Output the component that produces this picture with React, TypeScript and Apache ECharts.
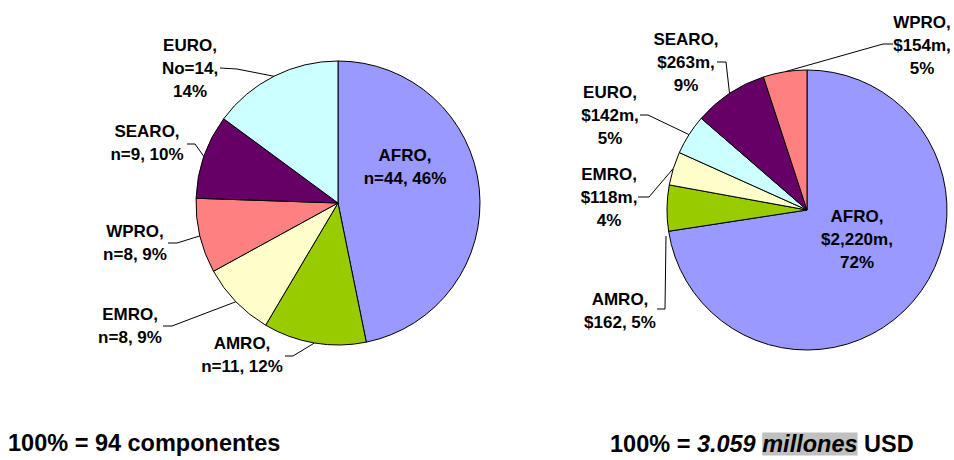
import React, { useEffect, useRef } from "react";
import * as echarts from "echarts";

// Left pie: number of components by region (clockwise from 12 o'clock)
const leftRegions = ["AFRO", "AMRO", "EMRO", "WPRO", "SEARO", "EURO"];
const leftCounts = [44, 11, 8, 8, 9, 14];
const leftCountLabels = ["n=44", "n=11", "n=8", "n=8", "n=9", "No=14"];
const leftPctLabels = ["46%", "12%", "9%", "9%", "10%", "14%"];

// Right pie: funding by region, USD millions (clockwise from 12 o'clock)
const rightRegions = ["AFRO", "AMRO", "EMRO", "EURO", "SEARO", "WPRO"];
const rightAmounts = [2220, 162, 118, 142, 263, 154];
const rightAmountLabels = ["$2,220m", "$162", "$118m", "$142m", "$263m", "$154m"];
const rightPctLabels = ["72%", "5%", "4%", "5%", "9%", "5%"];

const regionColors: Record<string, string> = {
  AFRO: "#9999FF",
  AMRO: "#99CC00",
  EMRO: "#FFFFCC",
  WPRO: "#FF8080",
  SEARO: "#660066",
  EURO: "#CCFFFF",
};

const leftTexts = leftRegions.map((r, i) =>
  r === "EURO"
    ? `${r},\n${leftCountLabels[i]},\n${leftPctLabels[i]}`
    : `${r},\n${leftCountLabels[i]}, ${leftPctLabels[i]}`
);
const rightTexts = rightRegions.map((r, i) =>
  r === "AMRO"
    ? `${r},\n${rightAmountLabels[i]}, ${rightPctLabels[i]}`
    : `${r},\n${rightAmountLabels[i]},\n${rightPctLabels[i]}`
);

// label placement (layout only)
type LP = { x: number; y: number; line?: number[][]; p0?: number[] };
const leftLayout: LP[] = [
  { x: 405, y: 167 },
  { x: 242, y: 355, line: [[293, 356], [285, 356]] },
  { x: 130, y: 326, line: [[172, 326], [163, 326]] },
  { x: 135, y: 243, line: [[177, 243], [168, 243]] },
  { x: 147, y: 143, line: [[195, 144], [187, 144]] },
  { x: 190, y: 68, line: [[237, 69], [220, 68]] },
];
const rightLayout: LP[] = [
  { x: 857, y: 239 },
  { x: 620, y: 311, line: [[665, 309], [657, 309]], p0: [666, 236] },
  { x: 609, y: 197, line: [[649, 197], [638, 197]] },
  { x: 610, y: 115, line: [[648, 115], [640, 115]] },
  { x: 686, y: 62, line: [[726, 62], [717, 62]] },
  { x: 922, y: 45, line: [[883, 44], [893, 44]] },
];

const FONT = "'Liberation Sans', Arial, Helvetica, sans-serif";

function makeSeries(
  names: string[],
  values: number[],
  texts: string[],
  center: number[],
  radius: number
) {
  return {
    type: "pie",
    center,
    radius,
    startAngle: 90,
    clockwise: true,
    avoidLabelOverlap: false,
    silent: true,
    itemStyle: { borderColor: "#000", borderWidth: 1 },
    label: {
      show: true,
      position: "outside",
      formatter: (p: any) => texts[p.dataIndex],
      fontFamily: FONT,
      fontWeight: "bold",
      fontSize: 17,
      lineHeight: 23,
      color: "#000",
      align: "center",
    },
    labelLine: {
      show: true,
      length: 10,
      length2: 10,
      smooth: false,
      lineStyle: { color: "#000", width: 1 },
    },
    emphasis: { disabled: true },
    data: names.map((n, i) => ({
      name: n,
      value: values[i],
      itemStyle: { color: regionColors[n] },
      ...(n === "AFRO"
        ? { label: { position: "inside" }, labelLine: { show: false } }
        : {}),
    })),
  };
}

export default function App() {
  const ref = useRef<HTMLDivElement>(null);
  useEffect(() => {
    if (!ref.current) return;
    const chart = echarts.init(ref.current, undefined, { renderer: "svg" });
    const layouts = [leftLayout, rightLayout];
    chart.setOption({
      animation: false,
      backgroundColor: "#ffffff",
      series: [
        makeSeries(leftRegions, leftCounts, leftTexts, [338, 203], 142),
        makeSeries(rightRegions, rightAmounts, rightTexts, [807, 210], 140),
      ].map((s) => ({
        ...s,
        labelLayout: (params: any) => {
          const lay = layouts[params.seriesIndex][params.dataIndex];
          const out: any = {
            x: lay.x,
            y: lay.y,
            align: "center",
            verticalAlign: "middle",
          };
          if (lay.line && params.labelLinePoints) {
            const p0 = lay.p0 || params.labelLinePoints[0];
            out.labelLinePoints = [p0, lay.line[0], lay.line[1]];
          }
          return out;
        },
      })),
      graphic: [
        {
          type: "text",
          left: 8,
          top: 431,
          style: {
            text: "100% = 94 componentes",
            font: `bold 23.5px ${FONT}`,
            fill: "#000",
          },
        },
        {
          type: "text",
          left: 610,
          top: 432,
          style: {
            text: "{a|100% = }{b|3.059 }{c|millones}{a| USD}",
            fill: "#000",
            rich: {
              a: { fontFamily: FONT, fontWeight: "bold", fontSize: 23.5, lineHeight: 24 },
              b: { fontFamily: FONT, fontWeight: "bold", fontStyle: "italic", fontSize: 23.5, lineHeight: 24 },
              c: {
                fontFamily: FONT,
                fontWeight: "bold",
                fontStyle: "italic",
                fontSize: 23.5,
                lineHeight: 24,
                backgroundColor: "#C0C0C0",
              },
            },
          },
        },
      ],
    } as any);
    return () => chart.dispose();
  }, []);
  return (
    <div
      ref={ref}
      style={{ position: "fixed", left: 0, top: 0, width: 954, height: 460 }}
    />
  );
}
